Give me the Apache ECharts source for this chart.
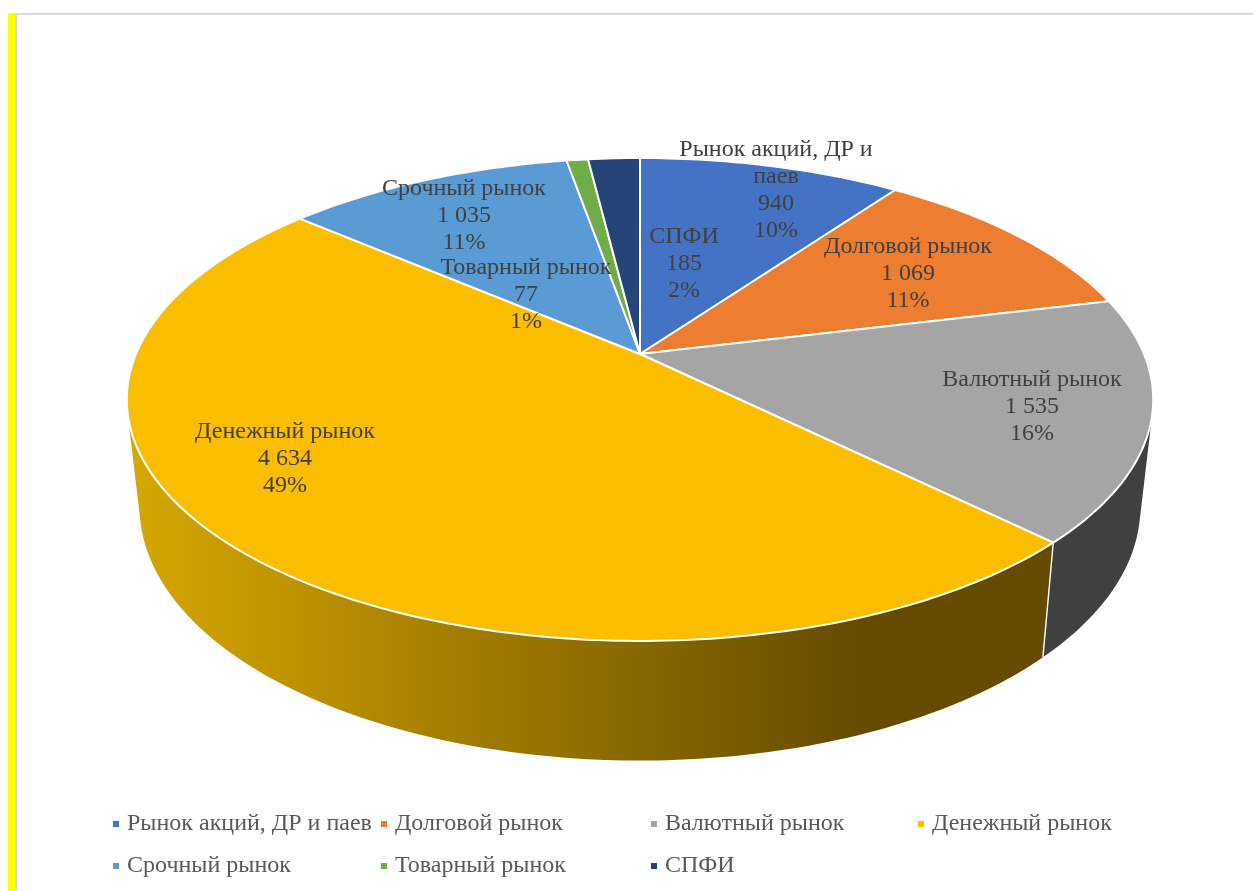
<!DOCTYPE html>
<html>
<head>
<meta charset="utf-8">
<style>html,body{margin:0;padding:0;background:#fff}#c{width:1253px;height:891px}</style>
<script src="https://cdn.jsdelivr.net/npm/echarts@6/dist/echarts.min.js"></script>
</head>
<body>
<div id="c"></div>
<script>
// ---- data ----
const categories = ['Рынок акций, ДР и паев','Долговой рынок','Валютный рынок','Денежный рынок','Срочный рынок','Товарный рынок','СПФИ'];
const values = [940,1069,1535,4634,1035,77,185];
const labelNames = ['Рынок акций, ДР и\nпаев','Долговой рынок','Валютный рынок','Денежный рынок','Срочный рынок','Товарный рынок','СПФИ'];
const colors = ['#4472c4','#ed7d31','#a5a5a5','#fbbd00','#5b9bd5','#70ad47','#264478'];

// ---- layout ----
const labelAnchors = [[776,190],[908,274],[1032,407],[285,459],[464,216],[526,295],[684,264]];
const legendAnchors = [[113,812],[381,812],[651,812],[918,812],[113,854],[381,854],[651,854]];
const P = {cx:640, cy:354, a:504, b:232.9, k:0.1884, ecy:399.5, baseSx:0.975, baseSy:1.05, baseY:507};
const FONT = '"Liberation Serif","Times New Roman",serif';

const total = values.reduce((s,v)=>s+v,0);
const starts = []; values.reduce((s,v,i)=>{starts[i]=s;return s+v;},0);
const fmt = v => String(v).replace(/\B(?=(\d{3})+$)/g,' ');

function topPt(t){ // t: radians clockwise from 12 o'clock
  const u=Math.sin(t), v=Math.cos(t), d=1+P.k*v;
  return [P.cx+P.a*u/d, P.cy-P.b*v/d];
}
function basePt(t){
  const p=topPt(t);
  return [P.cx+P.baseSx*(p[0]-P.cx), P.baseY+P.baseSy*(p[1]-P.ecy)];
}
function arcAngles(t0,t1){
  const n=Math.max(2,Math.ceil((t1-t0)/(Math.PI/180)));
  const r=[]; for(let i=0;i<=n;i++) r.push(t0+(t1-t0)*i/n);
  return r;
}
function wallPath(ts){
  let d='';
  for(let i=0;i<ts.length-1;i++){
    let q=[topPt(ts[i]),topPt(ts[i+1]),basePt(ts[i+1]),basePt(ts[i])];
    let area=0; q.forEach((p,j)=>{const r=q[(j+1)%4];area+=p[0]*r[1]-r[0]*p[1];});
    if(area<0) q=q.reverse();
    d+='M'+q.map(p=>p[0].toFixed(2)+' '+p[1].toFixed(2)).join('L')+'Z';
  }
  return d;
}
const yellowWall = new echarts.graphic.LinearGradient(130,0,860,0,[
  {offset:0,color:'#d6a700'},{offset:1,color:'#654b00'}],true);
const wallFill = i => i===3 ? yellowWall : (i===2 ? '#404040' : colors[i]);

function makeSeries(i){
  return {
    type:'custom', name:categories[i], coordinateSystem:'none', silent:true,
    animation:false, clip:false, color:colors[i],
    data:[[values[i],starts[i]]],
    renderItem:function(params,api){
      const v=api.value(0), s=api.value(1);
      const t0=s/total*2*Math.PI, t1=(s+v)/total*2*Math.PI;
      const ts=arcAngles(t0,t1);
      const pts=[[P.cx,P.cy]].concat(ts.map(topPt));
      const e0=topPt(t1), e1=basePt(t1);
      const a=labelAnchors[i];
      return {type:'group',children:[
        {type:'path',z2:1,shape:{pathData:wallPath(ts)},style:{fill:wallFill(i),stroke:null}},
        {type:'line',z2:2,shape:{x1:e0[0],y1:e0[1],x2:e1[0],y2:e1[1]},style:{stroke:'#fff',lineWidth:1.4}},
        {type:'polygon',z2:3,shape:{points:pts},style:{fill:colors[i],stroke:'#fff',lineWidth:2,lineJoin:'round'}},
        {type:'text',z2:100,style:{
          x:a[0],y:a[1],text:labelNames[i]+'\n'+fmt(v)+'\n'+Math.round(v/total*100)+'%',
          align:'center',verticalAlign:'middle',lineHeight:27,
          fontFamily:FONT,fontSize:24,fill:'#404040'}}
      ]};
    }
  };
}

const chart = echarts.init(document.getElementById('c'),null,{renderer:'canvas'});
chart.setOption({
  animation:false,
  backgroundColor:'#ffffff',
  color:colors,
  legend:categories.map((n,i)=>({
    left:legendAnchors[i][0], top:legendAnchors[i][1], orient:'horizontal',
    icon:'rect', itemWidth:6, itemHeight:6, padding:0, selectedMode:false,
    data:[{name:n,itemStyle:{color:colors[i]}}],
    textStyle:{fontFamily:FONT,fontSize:24,color:'#595959',padding:[0,0,0,3]}
  })),
  graphic:[
    {type:'rect',z:10,shape:{x:15,y:13,width:2,height:878},style:{fill:'#d9d9d9'}},
    {type:'rect',z:10,shape:{x:15,y:13,width:1238,height:2},style:{fill:'#d9d9d9'}},
    {type:'rect',z:11,shape:{x:8,y:13,width:7,height:878},style:{fill:'#ffff00'}}
  ],
  series:categories.map((n,i)=>makeSeries(i))
});
</script>
</body>
</html>
